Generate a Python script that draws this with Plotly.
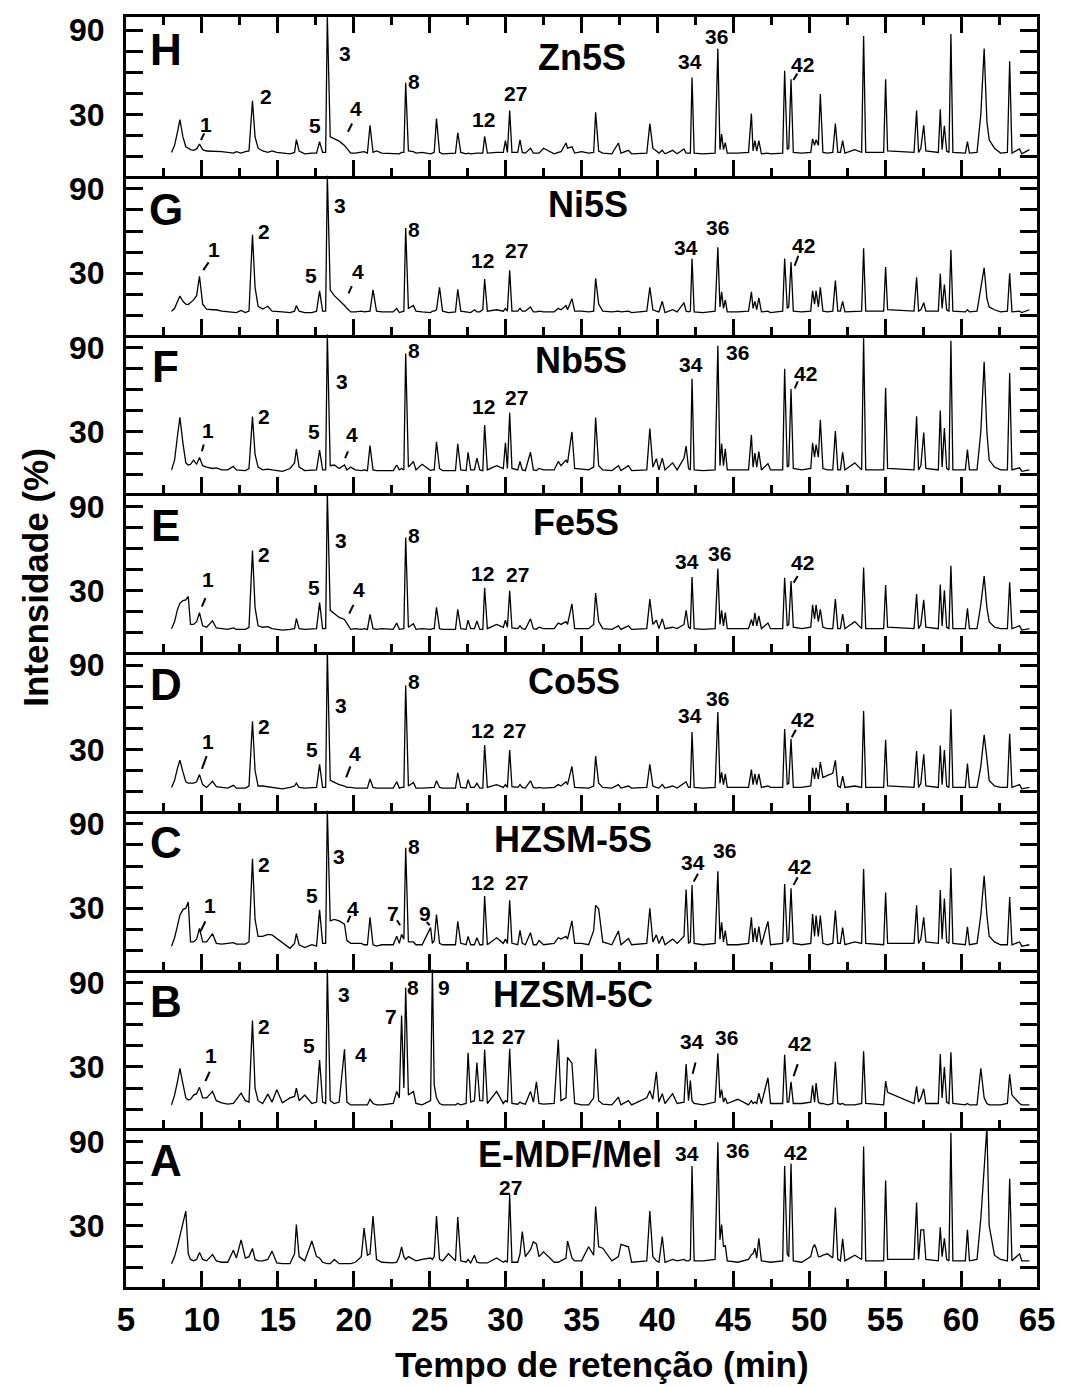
import plotly.graph_objects as go

# ---------------- data ----------------
rt_min = [
    8.00, 8.20, 8.40, 8.55, 8.75, 8.94, 9.10, 9.25,
    9.45, 9.65, 9.84, 10.05, 10.31, 10.70, 10.95, 11.30,
    11.70, 12.07, 12.27, 12.58, 12.86, 13.10, 13.33, 13.50,
    13.70, 14.00, 14.34, 14.62, 14.93, 15.30, 15.80, 16.10,
    16.22, 16.40, 16.77, 17.24, 17.55, 17.75, 17.95, 18.15,
    18.26, 18.45, 18.72, 19.04, 19.39, 19.55, 19.80, 20.10,
    20.50, 20.68, 20.90, 21.07, 21.27, 21.50, 21.85, 22.60,
    22.83, 23.00, 23.15, 23.30, 23.42, 23.60, 23.93, 24.10,
    24.50, 25.06, 25.18, 25.30, 25.45, 25.65, 25.85, 26.24,
    26.70, 26.85, 27.05, 27.40, 27.53, 27.70, 27.95, 28.11,
    28.30, 28.50, 28.62, 28.80, 29.41, 29.85, 29.99, 30.12,
    30.27, 30.42, 30.80, 30.95, 31.10, 31.30, 31.64, 31.83,
    32.03, 32.20, 32.50, 33.20, 33.47, 33.65, 33.98, 34.08,
    34.37, 34.55, 35.00, 35.47, 35.80, 35.93, 36.13, 36.40,
    37.00, 37.43, 37.60, 38.09, 38.30, 39.30, 39.50, 39.70,
    39.93, 40.10, 40.32, 40.50, 41.00, 41.30, 41.75, 41.89,
    42.05, 42.17, 42.28, 42.42, 43.00, 43.80, 43.98, 44.12,
    44.23, 44.35, 44.47, 44.60, 45.30, 46.00, 46.19, 46.30,
    46.42, 46.54, 46.68, 46.85, 47.28, 47.45, 48.25, 48.38,
    48.55, 48.65, 48.80, 48.95, 49.50, 50.10, 50.22, 50.35,
    50.45, 50.60, 50.73, 50.90, 51.20, 51.55, 51.72, 51.88,
    52.05, 52.20, 52.35, 53.00, 53.45, 53.58, 53.72, 54.90,
    55.03, 55.16, 56.90, 57.07, 57.20, 57.35, 57.54, 57.68,
    58.50, 58.63, 58.75, 58.90, 59.05, 59.20, 59.33, 59.46,
    60.28, 60.42, 60.55, 61.05, 61.30, 61.52, 61.70, 61.85,
    62.20, 62.60, 63.05, 63.20, 63.35, 63.85, 64.00, 64.50,
]

int_H = [
    3, 8, 18, 26.4, 14, 7, 6, 5,
    4.5, 5.5, 9, 5, 4, 4, 3.5, 3.5,
    3, 2.5, 3.5, 2.5, 3.5, 4, 39.7, 14,
    6, 4, 3, 4, 3, 2.5, 2, 3,
    12.1, 4, 2, 2.5, 2.5, 10.7, 3, 3,
    100, 14, 12.6, 11, 8, 6, 2.5, 2.5,
    3, 3.5, 2.5, 22.3, 3, 4, 2.5, 2.5,
    2.5, 2, 3, 3, 52.5, 4, 3.5, 2.5,
    3, 2, 2.5, 3, 27, 3, 2, 2,
    2.5, 17, 3, 2, 2.5, 2, 2.5, 2.5,
    2.5, 2.5, 14.5, 2.5, 3, 3, 11.4, 3,
    32.7, 3, 3, 11.9, 3, 2.5, 6, 2.5,
    2.5, 2.5, 6, 2, 3, 3.5, 9.7, 6,
    7, 2.5, 3.5, 2.5, 3, 31.5, 4, 2.5,
    2, 9.7, 2.5, 4.5, 2, 2.5, 23.5, 6,
    4, 2.5, 4.5, 2, 4.5, 2, 5.5, 2.5,
    2.5, 2.5, 56.2, 2.5, 2, 2.5, 76.8, 5,
    16, 5, 10, 2.5, 2.5, 3, 30.7, 4,
    11.4, 4, 11.4, 2, 2.5, 2, 2.5, 61,
    5, 6, 55, 3, 2.5, 3, 12.6, 8,
    12, 8, 44.5, 3, 2.5, 3, 23.5, 3,
    3, 11.4, 2.5, 5, 3, 85.7, 3, 3,
    55, 4, 3, 32.7, 3, 6, 22.3, 4,
    3, 33.7, 5, 22, 4, 3, 87.2, 3,
    2.5, 10.7, 2.5, 3, 30, 76.8, 25, 12,
    6, 2.5, 3, 67.8, 2.5, 5.5, 2, 5,
]

int_G = [
    3, 5, 10, 13.8, 10, 8, 7.7, 9,
    11, 14, 27.8, 8, 4.5, 4, 4, 3,
    2.5, 2.5, 2, 3.5, 2, 3, 57.4, 20,
    6.5, 4.5, 6.5, 3, 3, 2.5, 2, 3,
    7, 3, 2, 2, 3, 17.4, 3, 3,
    100, 18, 14, 11, 7, 5, 2.5, 2.5,
    3, 2.5, 2.5, 3, 18.2, 3, 2.5, 2.5,
    5, 2, 2.5, 3, 62.2, 5, 7, 3,
    2.5, 2, 3, 3, 4, 19.9, 3, 2,
    2.5, 18.6, 3, 2.5, 2.5, 2, 4, 2.5,
    2.5, 4, 25.9, 3, 4, 3, 5, 3,
    32, 3, 3, 5, 3, 3, 6, 2.5,
    2.5, 3, 2.5, 2.5, 5, 4, 7, 4,
    11.9, 3, 3, 2.5, 3, 26.4, 8, 3,
    2.5, 3, 2.5, 3, 2, 3, 19.9, 4,
    3, 2.5, 10, 2, 4, 2.5, 9, 3,
    2.5, 3, 40.4, 2.5, 2, 3, 48.4, 6,
    16.7, 5, 11, 2.5, 2.5, 3, 16.7, 5,
    10, 4, 12.5, 2.5, 3, 2, 3, 40.4,
    5, 6, 38, 3, 2.5, 3, 17.4, 8,
    17.4, 6, 19.9, 3, 2.5, 3, 24.7, 3,
    3, 10, 2.5, 3, 3, 47.7, 3, 3,
    34.4, 4, 3, 27.1, 3, 4, 9, 3,
    3, 29.5, 5, 22, 4, 3, 46.5, 3,
    2.5, 4, 2.5, 3, 18, 33.9, 12, 6,
    4, 2.5, 3, 30, 2.5, 3, 2, 4,
]

int_F = [
    3, 10, 28, 40.4, 22, 8, 6.5, 7,
    10, 7, 11.9, 6, 5, 4, 4.5, 3,
    3, 5.5, 3, 2.5, 2.5, 4, 40.9, 14,
    5, 3, 3.5, 3, 2.5, 2, 4, 8,
    17.9, 5, 2.5, 2.5, 3, 17, 3, 3,
    100, 6, 6.5, 4, 6.5, 3, 5, 3,
    2.5, 3, 2.5, 20.3, 3, 2.5, 2.5, 2.5,
    6.5, 3, 4, 3, 85.7, 5, 9, 3,
    7, 2.5, 3, 3, 23, 4, 2.5, 2.5,
    2.5, 21.5, 3, 2.5, 15.5, 3, 3, 11.4,
    3, 2.5, 34.9, 3, 6, 4, 22.3, 4,
    43.6, 4, 3, 9, 3, 2.5, 15.7, 3,
    2.5, 4, 3, 3, 9, 6, 10, 8,
    30, 4, 3.5, 3, 5, 40.2, 6, 3,
    2.5, 6, 2.5, 6, 2.5, 3, 32.4, 5,
    11, 3, 11.4, 3, 8, 3, 11.4, 19.9,
    4, 3, 67.8, 3, 2.5, 3, 91.3, 6,
    21.8, 6, 18, 3, 3, 3, 27.8, 5,
    15, 5, 16, 3, 7.5, 3, 3, 75,
    5, 6, 60.5, 4, 3, 4, 22.3, 12,
    21, 12, 38.7, 4, 3, 3, 30.7, 3,
    3, 15.5, 3, 8, 3, 96.9, 3, 3,
    61.5, 4, 3, 41.2, 3, 6, 29.5, 4,
    3, 45.3, 5, 32.7, 4, 3, 94.9, 3,
    3, 17.4, 3, 3, 30, 79.9, 30, 10,
    5, 3, 3, 71.9, 3, 4.5, 2, 3,
]

int_E = [
    3, 8, 17, 21, 23, 23.5, 25.9, 6,
    6, 8, 14.3, 5, 4, 8.5, 3.5, 3,
    2.5, 3.5, 2.5, 2.5, 2.5, 4, 58.6, 18,
    5, 4, 4.5, 3, 2.5, 2, 2.5, 3,
    10.2, 3, 2.5, 2.5, 3, 21.5, 3, 3,
    100, 16, 13.8, 11, 9.5, 7, 2.5, 3,
    2.5, 3, 2.5, 13.1, 3, 2.5, 3, 2.5,
    7, 2.5, 3, 3, 67.8, 4, 6.5, 2.5,
    3, 2.5, 3, 3, 18.2, 3, 2.5, 2.5,
    2.5, 16.7, 3, 2.5, 9, 3, 3, 8.5,
    2.5, 2.5, 32, 3, 6, 4, 9, 4,
    30, 3.5, 3, 5, 3, 2.5, 10, 3,
    2.5, 4, 3, 3, 7, 6, 8, 6,
    20.6, 3, 3, 3, 6, 28.3, 8, 3,
    2.5, 5, 2.5, 5, 2.5, 3, 24, 6,
    9, 3, 10, 3, 4, 3, 6, 16,
    4, 3, 39.7, 3, 2.5, 3, 45.8, 6,
    16, 5, 14.5, 3, 3, 3, 9.5, 5,
    14.3, 5, 12, 3, 7, 3, 3, 39.2,
    5, 6, 36.8, 4, 3, 4, 19.9, 10,
    19.9, 8, 16.7, 4, 3, 3, 24, 3,
    3, 13.3, 3, 8, 3, 46.5, 3, 3,
    34.1, 4, 3, 27.6, 3, 6, 23.5, 4,
    3, 34.4, 5, 30.3, 4, 3, 47.7, 3,
    3, 17.4, 3, 3, 20, 40.4, 18, 8,
    4, 3, 3, 36, 3, 5, 2, 3,
]

int_D = [
    3, 8, 17, 22.3, 14, 7, 6, 6,
    6, 7, 12.1, 5, 3, 7.3, 3.5, 3,
    2.5, 4.5, 2.5, 2.5, 2.5, 4, 50.1, 15,
    4, 4, 3.5, 3, 2.5, 2, 3, 4,
    6, 3, 2.5, 2.5, 3, 19.4, 3, 3,
    100, 8, 6.5, 5, 4, 3, 3, 2.5,
    2.5, 2.5, 2.5, 9, 3, 2.5, 2.5, 2.5,
    7, 2.5, 3, 3, 75.5, 4, 6.5, 2.5,
    2.5, 2.5, 3, 3, 7.7, 3, 2.5, 2.5,
    2.5, 13.3, 3, 2.5, 8.5, 3, 3, 6,
    2.5, 2.5, 33.2, 3, 5, 3, 5, 3,
    29.5, 3.5, 3, 5, 3, 2.5, 7.7, 3,
    2.5, 3, 2.5, 3, 5, 4, 7, 5,
    17.9, 3, 3, 2.5, 4, 25.2, 6, 3,
    2.5, 5, 2.5, 4, 2.5, 3, 19.4, 4,
    3, 2.5, 5, 2.5, 4, 2.5, 6, 7,
    3, 3, 42.4, 3, 2.5, 3, 56.7, 6,
    13.8, 5, 12.6, 3, 3, 3, 15.7, 5,
    12.6, 5, 12.6, 3, 4, 3, 3, 44.6,
    5, 6, 37.5, 3, 3, 4, 17, 9,
    17, 9, 21, 10, 11.5, 13, 22.3, 4,
    3, 11, 3, 4, 3, 57.4, 3, 3,
    36.8, 4, 3, 28.8, 3, 6, 26.6, 4,
    3, 32.7, 5, 29.5, 4, 3, 58.6, 3,
    3, 19.9, 3, 3, 18, 40.4, 23.5, 8,
    4, 3, 3, 41.2, 3, 5, 2, 3,
]

int_C = [
    3, 9, 18, 25, 29, 30, 34.4, 6,
    6, 8, 15.7, 6, 6, 11.9, 5, 4.5,
    5, 5.5, 4.5, 4.5, 4.5, 6, 65.1, 22,
    10, 10, 11.4, 11, 8.5, 6, 1.5, 5,
    11.9, 4, 2, 4, 3, 28.8, 5, 5,
    100, 21, 22, 21, 18.6, 7, 5, 5,
    5, 4, 4, 23.5, 4, 3, 4, 4,
    10, 5, 11.4, 8, 73, 6, 6, 4,
    4, 16.2, 5, 7, 25.4, 5, 4, 4,
    4, 20.6, 5, 4, 10, 4, 4, 9,
    4, 4, 38.7, 4, 9, 5, 8, 5,
    35.6, 5, 4, 14.3, 5, 4, 12.6, 4,
    4, 7, 4, 5, 9, 8, 10, 8,
    21, 5, 5, 4, 14, 32, 29.5, 6,
    4, 13.8, 4, 8.5, 4, 5, 30, 6,
    11, 5, 10, 4, 8, 5, 10, 43.3,
    5, 6, 46.5, 5, 4, 5, 56.2, 8,
    19.9, 6, 14, 4, 4, 5, 23.5, 6,
    16, 6, 17, 4, 20.6, 4, 5, 47.2,
    6, 8, 44.1, 5, 4, 5, 25.9, 10,
    24.7, 10, 24.7, 5, 4, 5, 28.3, 5,
    5, 16.2, 4, 6, 5, 57.9, 5, 4,
    41.2, 5, 5, 32, 5, 8, 23.5, 6,
    5, 42.9, 8, 36.8, 6, 5, 58.6, 5,
    4, 16.7, 4, 5, 25, 53, 25, 10,
    6, 4, 4, 38, 4, 6, 3, 4,
]

int_B = [
    3, 10, 20, 29, 18, 8, 6.5, 7,
    10, 11, 15.5, 8, 8, 12.6, 6, 4.5,
    3.5, 4, 7, 11.4, 6, 5, 63, 15,
    6, 4, 10.7, 5, 13.8, 4.5, 8, 9,
    15, 6, 10, 4, 5, 34.9, 5, 4,
    100, 6, 4, 5, 42.6, 5, 3, 3,
    3, 3, 3, 7, 4, 3, 3, 4,
    12.6, 8, 66.6, 15, 86.4, 10, 12.6, 4,
    3, 6, 100, 17, 8, 4, 3, 3,
    3, 4, 3, 4, 40, 5, 6, 33.2,
    6, 6, 42.4, 4, 12.6, 4, 6, 5,
    42.9, 4, 3.5, 5, 4, 3.5, 12.6, 5,
    19.4, 4, 3.5, 4, 49.4, 6, 8, 36.8,
    32.7, 4, 3, 3, 8, 42.9, 6, 3.5,
    3, 8.5, 3, 6, 3, 8, 13, 7,
    26.6, 5, 11, 4, 11, 4, 5, 32,
    6, 20.3, 6, 4, 3, 5, 39.7, 8,
    13.8, 5, 8, 4, 7, 3, 6, 4,
    5, 4, 11.4, 4, 22.3, 4, 4, 38.7,
    5, 5, 19.4, 4, 4, 5, 17, 5,
    18.5, 5, 4, 4, 3, 4, 33.7, 4,
    3.5, 4, 3, 3, 4, 41.2, 4, 3,
    19.9, 12, 4, 16.2, 5, 8, 14.5, 4,
    4, 39.2, 8, 30, 5, 4, 40.4, 4,
    3, 4, 3, 3, 29, 8, 4, 3,
    3, 3, 4, 24.7, 10, 4, 3, 3,
]

int_A = [
    3, 8, 16, 23, 33, 40.4, 10, 6,
    5, 6, 10.9, 6, 5, 9.4, 5, 4,
    4, 12.6, 7, 19.9, 7, 8, 13.8, 6,
    5, 5, 6, 11.9, 3.5, 3, 3, 10,
    30.8, 8, 5, 19.1, 8, 7, 4, 3,
    3, 3, 6, 3, 3, 3, 3, 4,
    8, 28.3, 9, 10, 36.8, 6, 4, 3.5,
    4, 8, 15, 8, 6, 8, 6, 5,
    6, 7, 6, 8, 36.8, 6, 5, 10,
    5, 36.1, 5, 4, 6, 3.5, 9, 4,
    3.5, 3.5, 4, 3.5, 7, 4, 5, 4,
    51.8, 4, 4, 10, 25.9, 8, 13, 18.6,
    17, 8, 11.4, 4, 4, 5, 7, 19.1,
    7, 5, 5, 15, 9, 43.6, 15, 14,
    5, 8, 16.7, 15, 4, 5, 40.4, 8,
    5, 4, 22.3, 4, 6, 5, 6, 5,
    5, 6, 72.4, 5, 5, 6, 89.3, 20,
    30.8, 15, 16, 5, 4, 6, 9.4, 10,
    14, 7, 21, 5, 4, 4, 5, 72.4,
    10, 8, 74.3, 5, 4, 8, 13.8, 16.7,
    14, 8, 8, 9, 10, 7, 42.9, 6,
    5, 20.6, 5, 9, 6, 86.4, 5, 5,
    62.2, 6, 6, 46.5, 6, 27, 27, 6,
    5, 28.8, 8, 21, 6, 5, 96.1, 5,
    5, 27.1, 5, 6, 35, 70, 100, 30,
    9, 6, 5, 63.4, 5, 10, 5, 5,
]

panel_letters = ["H", "G", "F", "E", "D", "C", "B", "A"]
sample_names = ["Zn5S", "Ni5S", "Nb5S", "Fe5S", "Co5S", "HZSM-5S", "HZSM-5C", "E-MDF/Mel"]
series = [int_H, int_G, int_F, int_E, int_D, int_C, int_B, int_A]

x_ticks = [5, 10, 15, 20, 25, 30, 35, 40, 45, 50, 55, 60, 65]
y_tickvals = [0, 15, 30, 45, 60, 75, 90]
y_ticktext = ["", "", "30", "", "", "", "90"]

# sample-name positions (retention time, intensity)
name_pos = [(35.03, 70.8), (35.42, 78.7), (34.97, 80.8), (34.64, 78.7),
            (34.51, 78.0), (34.44, 78.7), (34.44, 81.2), (34.25, 80.5)]
letter_pos = [(7.61, 76.5), (7.61, 75.0), (7.61, 76.5), (7.61, 76.5),
              (7.61, 76.5), (7.61, 76.5), (7.61, 76.5), (7.61, 76.5)]

peak_labels = {
    "H": [("1", 10.26, 23), ("2", 14.2, 42.5), ("5", 17.46, 22.4), ("3", 19.4, 73.7),
          ("4", 20.16, 34), ("8", 23.97, 53.5), ("12", 28.54, 26.2), ("27", 30.65, 45),
          ("34", 42.15, 67.5), ("36", 43.86, 85.7), ("42", 49.55, 65.4)],
    "G": [("1", 10.78, 47), ("2", 14.07, 59.3), ("5", 17.19, 28.6), ("3", 19.08, 78.5),
          ("4", 20.28, 31), ("8", 23.95, 61), ("12", 28.5, 39), ("27", 30.7, 45.8),
          ("34", 41.85, 48.5), ("36", 43.95, 62.3), ("42", 49.6, 50)],
    "F": [("1", 10.39, 30.7), ("2", 14.1, 41.2), ("5", 17.4, 30.3), ("3", 19.23, 65.9),
          ("4", 19.9, 28.3), ("8", 24.0, 87.7), ("12", 28.55, 48.4), ("27", 30.7, 54.5),
          ("34", 42.2, 78), ("36", 45.25, 86.4), ("42", 49.75, 71.9)],
    "E": [("1", 10.39, 38), ("2", 14.1, 55.7), ("5", 17.4, 32), ("3", 19.19, 65.9),
          ("4", 20.37, 30.8), ("8", 24.0, 69), ("12", 28.5, 42.4), ("27", 30.77, 41.6),
          ("34", 41.93, 50.6), ("36", 44.08, 56.2), ("42", 49.55, 50.1)],
    "D": [("1", 10.43, 35.6), ("2", 14.1, 46.5), ("5", 17.24, 30), ("3", 19.19, 61.5),
          ("4", 20.1, 27.1), ("8", 24.0, 78), ("12", 28.5, 43.6), ("27", 30.58, 43.6),
          ("34", 42.12, 54.2), ("36", 43.96, 65.9), ("42", 49.55, 51.3)],
    "C": [("1", 10.51, 32), ("2", 14.1, 61), ("5", 17.24, 39.2), ("3", 19.04, 67.1),
          ("4", 19.98, 29.5), ("7", 22.56, 26.4), ("8", 24.0, 74), ("9", 24.66, 26.4),
          ("12", 28.5, 48.2), ("27", 30.74, 48.2), ("34", 42.32, 62.2), ("36", 44.43, 70.7),
          ("42", 49.36, 59.8)],
    "B": [("1", 10.59, 38), ("2", 14.1, 58.6), ("5", 17.04, 45.3), ("3", 19.39, 81.6),
          ("4", 20.49, 39.2), ("7", 22.44, 65.9), ("8", 23.89, 86.4), ("9", 25.96, 86.4),
          ("12", 28.5, 51.3), ("27", 30.54, 51.3), ("34", 42.28, 48.4), ("36", 44.55, 50.8),
          ("42", 49.36, 47)],
    "A": [("27", 30.34, 57.0), ("34", 41.93, 81.6), ("36", 45.28, 83.2), ("42", 49.07, 82)],
}

# short leader strokes next to labels: (t0, i0, t1, i1)
leaders = {
    "H": [(9.94, 11.7, 10.15, 16.5), (19.62, 17.7, 19.89, 23.6), (48.96, 54.4, 49.21, 59.2)],
    "G": [(10.09, 32.2, 10.44, 37.7), (19.66, 15.6, 19.87, 20.8), (49.04, 35.3, 49.28, 42.4)],
    "F": [(10.0, 16.2, 10.12, 21), (19.43, 11.4, 19.62, 16.2), (49.05, 61, 49.24, 65.9)],
    "E": [(10.0, 18.6, 10.23, 24.7), (19.7, 13.8, 19.98, 19.9), (48.97, 35.6, 49.24, 40.4)],
    "D": [(10.0, 16.2, 10.31, 25.2), (19.5, 10.2, 19.78, 17.9), (48.85, 38.7, 49.12, 44)],
    "C": [(9.92, 13.8, 10.23, 20.6), (19.59, 19.9, 19.78, 24.7), (22.85, 21.4, 23.05, 17.9),
          (24.8, 20.2, 25.0, 17.9), (42.39, 48.9, 42.67, 54.5), (48.97, 46.5, 49.24, 52)],
    "B": [(10.23, 19.9, 10.51, 26.6), (42.32, 25.2, 42.51, 33.2), (48.97, 23.5, 49.24, 32)],
    "A": [],
}

# ---------------- figure ----------------
FONT = "Arial, Liberation Sans, sans-serif"
N = 8
Y_RANGE = [-13.6, 99.3]
X_RANGE = [5, 65]

fig = go.Figure()
annotations = []
shapes = []

for k in range(N):
    idx = k + 1
    sfx = "" if idx == 1 else str(idx)
    xname, yname = "x" + sfx, "y" + sfx
    fig.add_trace(go.Scatter(
        x=rt_min, y=series[k], mode="lines",
        line=dict(color="black", width=1.3),
        xaxis=xname, yaxis=yname, showlegend=False, hoverinfo="skip",
    ))
    top = 1 - k / N
    bot = 1 - (k + 1) / N
    xa = dict(
        domain=[0, 1], anchor=yname, range=X_RANGE,
        showline=True, linecolor="black", linewidth=3,
        mirror=("ticks" if k == 0 else False),
        ticks="inside", ticklen=16, tickwidth=3, tickcolor="black",
        tickmode="array", tickvals=x_ticks,
        minor=dict(ticks="inside", dtick=2.5, tick0=5, ticklen=8, tickwidth=3, tickcolor="black"),
        showgrid=False, zeroline=False,
        showticklabels=(k == N - 1),
        tickfont=dict(family=FONT, size=33, color="black", weight="bold"),
        ticklabelstandoff=1,
    )
    ya = dict(
        domain=[bot, top], anchor=xname, range=Y_RANGE,
        showline=True, linecolor="black", linewidth=3, mirror="ticks",
        ticks="inside", ticklen=17, tickwidth=3, tickcolor="black",
        tickmode="array", tickvals=y_tickvals, ticktext=y_ticktext,
        showgrid=False, zeroline=False,
        tickfont=dict(family=FONT, size=32, color="black", weight="bold"),
        ticklabelstandoff=12,
    )
    fig.layout["xaxis" + sfx] = xa
    fig.layout["yaxis" + sfx] = ya

    letter = panel_letters[k]
    annotations.append(dict(
        x=letter_pos[k][0], y=letter_pos[k][1], xref=xname, yref=yname,
        text="<b>%s</b>" % letter, showarrow=False, xanchor="center", yanchor="middle",
        font=dict(family=FONT, size=44, color="black"),
    ))
    annotations.append(dict(
        x=name_pos[k][0], y=name_pos[k][1], xref=xname, yref=yname,
        text="<b>%s</b>" % sample_names[k], showarrow=False, xanchor="center", yanchor="middle",
        font=dict(family=FONT, size=36, color="black"),
    ))
    for (txt, tx, ty) in peak_labels[letter]:
        annotations.append(dict(
            x=tx, y=ty, xref=xname, yref=yname, text="<b>%s</b>" % txt,
            showarrow=False, xanchor="center", yanchor="middle",
            font=dict(family=FONT, size=21, color="black"),
        ))
    for (t0, i0, t1, i1) in leaders[letter]:
        shapes.append(dict(
            type="line", xref=xname, yref=yname, x0=t0, y0=i0, x1=t1, y1=i1,
            line=dict(color="black", width=2),
        ))

# axis titles
annotations.append(dict(
    x=(606 - 126) / 919, y=(1287 - 1364) / 1270, xref="paper", yref="paper",
    text="<b>Tempo de retenção (min)</b>", showarrow=False,
    xanchor="center", yanchor="middle",
    font=dict(family=FONT, size=35, color="black"),
))
annotations.append(dict(
    x=(34 - 126) / 919, y=(1287 - 577) / 1270, xref="paper", yref="paper",
    text="<b>Intensidade (%)</b>", showarrow=False, textangle=-90,
    xanchor="center", yanchor="middle",
    font=dict(family=FONT, size=35, color="black"),
))

fig.update_layout(
    width=1067, height=1387, autosize=False,
    margin=dict(l=126, r=22, t=17, b=100, pad=0),
    paper_bgcolor="white", plot_bgcolor="white",
    annotations=annotations, shapes=shapes,
    font=dict(family=FONT, color="black"),
)

fig.write_html("out.html")
